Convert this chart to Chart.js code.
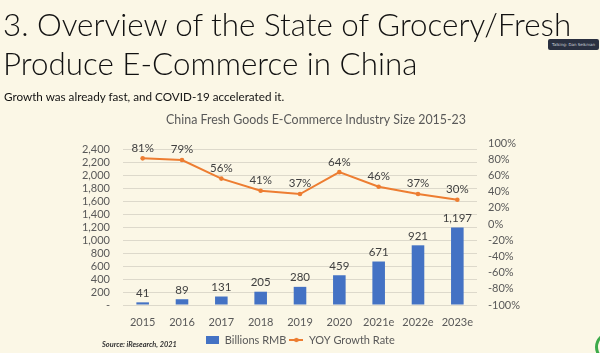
<!DOCTYPE html>
<html>
<head>
<meta charset="utf-8">
<script src="https://cdn.jsdelivr.net/npm/chart.js@4.4.1/dist/chart.umd.min.js"></script>
<style>
  html, body { margin:0; padding:0; width:600px; height:353px; overflow:hidden; background:#FBF7E6; }
  #wrap { position:relative; width:600px; height:353px; }
  canvas#c { position:absolute; left:0; top:0; }
  .t { position:absolute; white-space:nowrap; font-family:Lato, "DejaVu Sans", sans-serif; color:#111; }
  #h1 { left:3px; top:5px; font-weight:300; line-height:38px; }
  #h2 { left:3px; top:44px; font-weight:300; line-height:38px; }
  #sub { left:4px; top:88px; font-size:12px; line-height:16px; color:#111; }
  #src { left:102px; top:340px; font-size:8px; font-style:italic; font-weight:bold; color:#333; line-height:10px; }
  #talk { position:absolute; left:548px; top:39px; width:51px; height:11px; background:#2A3040; border-radius:2px;
          color:#cfd3dc; font:4px "DejaVu Sans", sans-serif; line-height:11px; text-align:center; }
  #ring { position:absolute; left:595px; top:332px; width:24px; height:24px; border:3px solid #3DAA4A; border-radius:50%; }
</style>
</head>
<body>
<div id="wrap">
  <canvas id="c" width="600" height="353"></canvas>
  <div class="t" id="h1">3. Overview of the State of Grocery/Fresh</div>
  <div class="t" id="h2">Produce E-Commerce in China</div>
  <div class="t" id="sub">Growth was already fast, and COVID-19 accelerated it.</div>
  <div class="t" id="src">Source: iResearch, 2021</div>
  <div id="talk">Talking: Dan Seikman</div>
  <div id="ring"></div>
</div>
<script>
// ---- data ----
const categories = ["2015","2016","2017","2018","2019","2020","2021e","2022e","2023e"];
const sizeBillionsRMB = [41, 89, 131, 205, 280, 459, 671, 921, 1197];
const yoyGrowthPct = [81, 79, 56, 41, 37, 64, 46, 37, 30];
const seriesNames = ["Billions RMB", "YOY Growth Rate"];
const chartTitle = "China Fresh Goods E-Commerce Industry Size 2015-23";

// ---- fit slide text widths ----
function fitText(el, targetWidth, fontSpec) {
  const cv = document.createElement('canvas').getContext('2d');
  cv.font = fontSpec.replace('SIZE', '100px');
  const w = cv.measureText(el.textContent).width;
  const s = 100 * targetWidth / w;
  el.style.fontSize = s.toFixed(2) + 'px';
  return s;
}
const fs = fitText(document.getElementById('h1'), 570, '300 SIZE Lato');
document.getElementById('h2').style.fontSize = fs.toFixed(2) + 'px';
fitText(document.getElementById('sub'), 281, 'normal SIZE Lato');
fitText(document.getElementById('src'), 75, 'italic bold SIZE Lato');

// ---- legend markers ----
function mkRect() {
  const c = document.createElement('canvas'); c.width = 13; c.height = 8;
  const x = c.getContext('2d'); x.fillStyle = '#4472C4'; x.fillRect(0,0,13,8); return c;
}
function mkLine() {
  const c = document.createElement('canvas'); c.width = 14; c.height = 8;
  const x = c.getContext('2d'); x.strokeStyle = '#ED7D31'; x.lineWidth = 2;
  x.beginPath(); x.moveTo(0,4); x.lineTo(14,4); x.stroke();
  x.fillStyle = '#ED7D31'; x.beginPath(); x.arc(7,4,2.2,0,Math.PI*2); x.fill(); return c;
}

const fmtNum = v => v === 0 ? '-' : v.toLocaleString('en-US');

const valueLabels = {
  id: 'valueLabels',
  afterDatasetsDraw(chart) {
    const ctx = chart.ctx;
    ctx.save();
    ctx.font = '11.5px Lato';
    ctx.fillStyle = '#404040';
    ctx.textAlign = 'center';
    ctx.textBaseline = 'bottom';
    chart.data.datasets.forEach((ds, i) => {
      const meta = chart.getDatasetMeta(i);
      meta.data.forEach((el, j) => {
        const v = ds.data[j];
        const txt = ds.type === 'line' ? v + '%' : v.toLocaleString('en-US');
        const off = ds.type === 'line' ? 4.5 : 3.5;
        ctx.fillText(txt, el.x, el.y - off);
      });
    });
    ctx.restore();
  }
};

// fine placement of the title and legend blocks
const blockShift = {
  id: 'blockShift',
  afterLayout(chart) {
    const t = chart.titleBlock;
    if (t) { t.left += 16; t.right += 16; }
    const l = chart.legend;
    if (l) { l.top += 3.5; l.bottom += 3.5; }
  }
};

const gridColor = '#DDD9CB';
const tickColor = '#595959';

new Chart(document.getElementById('c'), {
  data: {
    labels: categories,
    datasets: [
      { type: 'bar', label: seriesNames[0], data: sizeBillionsRMB, yAxisID: 'y',
        backgroundColor: '#4472C4', barPercentage: 0.32, categoryPercentage: 1, order: 2 },
      { type: 'line', label: seriesNames[1], data: yoyGrowthPct, yAxisID: 'y1',
        borderColor: '#ED7D31', backgroundColor: '#ED7D31', borderWidth: 2,
        pointRadius: 2.3, pointBackgroundColor: '#ED7D31', pointBorderWidth: 0,
        tension: 0, order: 1 }
    ]
  },
  options: {
    responsive: false,
    animation: false,
    devicePixelRatio: 1,
    layout: { padding: { left: 0, right: 0, top: 0, bottom: 1 } },
    plugins: {
      title: { display: true, text: chartTitle, color: tickColor,
        font: { family: 'Lato', size: 12.4, weight: 'normal' }, padding: { top: 112.6, bottom: 15.5 } },
      legend: { position: 'bottom',
        labels: { color: tickColor, font: { family: 'Lato', size: 11 }, padding: 3,
          usePointStyle: true, pointStyleWidth: 14, boxHeight: 8,
          generateLabels(chart) {
            return chart.data.datasets.map((ds, i) => ({
              text: ds.label, datasetIndex: i, fontColor: tickColor,
              pointStyle: ds.type === 'line' ? mkLine() : mkRect(),
              fillStyle: ds.backgroundColor, strokeStyle: ds.borderColor, lineWidth: 0, hidden: false
            }));
          } } },
      tooltip: { enabled: false }
    },
    scales: {
      x: { grid: { display: false, drawTicks: false }, border: { display: false },
        ticks: { color: tickColor, font: { family: 'Lato', size: 11 }, padding: 10.4, maxRotation: 0, autoSkip: false },
        afterFit(s) { s.height = 23; } },
      y: { position: 'left', min: 0, max: 2500,
        grid: { color: gridColor, drawTicks: false, lineWidth: 1 }, border: { display: false },
        ticks: { stepSize: 200, includeBounds: false, autoSkip: false, color: tickColor, font: { family: 'Lato', size: 11 }, padding: 13,
          callback: v => fmtNum(v) },
        afterFit(s) { s.width = 123; } },
      y1: { position: 'right', min: -100, max: 100,
        grid: { drawOnChartArea: false, drawTicks: false }, border: { display: false },
        ticks: { stepSize: 20, autoSkip: false, color: tickColor, font: { family: 'Lato', size: 11 }, padding: 11,
          callback: v => v + '%' },
        afterFit(s) { s.width = 123; } }
    }
  },
  plugins: [valueLabels, blockShift]
});
</script>
</body>
</html>
